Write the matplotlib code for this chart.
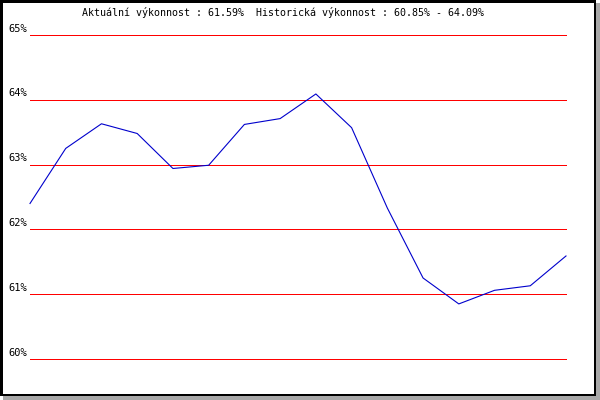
import matplotlib
matplotlib.use("Agg")
import matplotlib.pyplot as plt
from matplotlib.patches import Rectangle
import matplotlib.transforms as mtransforms

# Data
points = list(range(16))
values = [62.40, 63.25, 63.63, 63.48, 62.94, 62.99, 63.62, 63.71,
          64.09, 63.57, 62.33, 61.25, 60.85, 61.06, 61.13, 61.59]
tick_values = [60, 61, 62, 63, 64, 65]
tick_labels = ["60%", "61%", "62%", "63%", "64%", "65%"]
title_text = "Aktuální výkonnost : 61.59%  Historická výkonnost : 60.85% - 64.09%"

W, H = 600, 400
fig = plt.figure(figsize=(6, 4), dpi=100)
fig.patch.set_facecolor("white")

def px(x0, y0, w, h):
    # pixel box (top-left origin) -> figure fraction
    return (x0 / W, 1 - (y0 + h) / H, w / W, h / H)

# shadow
for (x0, y0, w, h) in [(596, 3, 4, 397), (3, 396, 597, 4)]:
    l, b, ww, hh = px(x0, y0, w, h)
    fig.patches.append(Rectangle((l, b), ww, hh, transform=fig.transFigure,
                                 facecolor="#a8a8a8", edgecolor="none", zorder=0))
# black frame
for (x0, y0, w, h) in [(0, 0, 596, 2.5), (0, 393.5, 596, 2.5), (0, 0, 2.5, 396), (593.5, 0, 2.5, 396)]:
    l, b, ww, hh = px(x0, y0, w, h)
    fig.patches.append(Rectangle((l, b), ww, hh, transform=fig.transFigure,
                                 facecolor="black", edgecolor="none", zorder=1))

ax = fig.add_axes(px(30, 35, 536, 324))
ax.set_xlim(0, 15)
ax.set_ylim(60, 65)
ax.set_facecolor("none")
for s in ax.spines.values():
    s.set_visible(False)
ax.set_xticks([])
ax.set_yticks([])

for v in tick_values:
    ln = ax.axhline(v, color="#ff0000", lw=0.72, clip_on=False)
    ln.set_snap(True)

ax.plot(points, values, color="#0000cc", lw=0.8, clip_on=False, zorder=3)

font = dict(family="DejaVu Sans Mono", size=7.5, color="black")
offset = mtransforms.ScaledTranslation(-3 / 100, 1.5 / 100, fig.dpi_scale_trans)
for v, lab in zip(tick_values, tick_labels):
    ax.text(0, v, lab, ha="right", va="bottom",
            transform=ax.transData + offset, **font)

title_font = dict(font, size=7.2)
fig.text(283 / W, 1 - 13 / H, title_text, ha="center", va="center", **title_font)

fig.savefig("out.png", dpi=100)
